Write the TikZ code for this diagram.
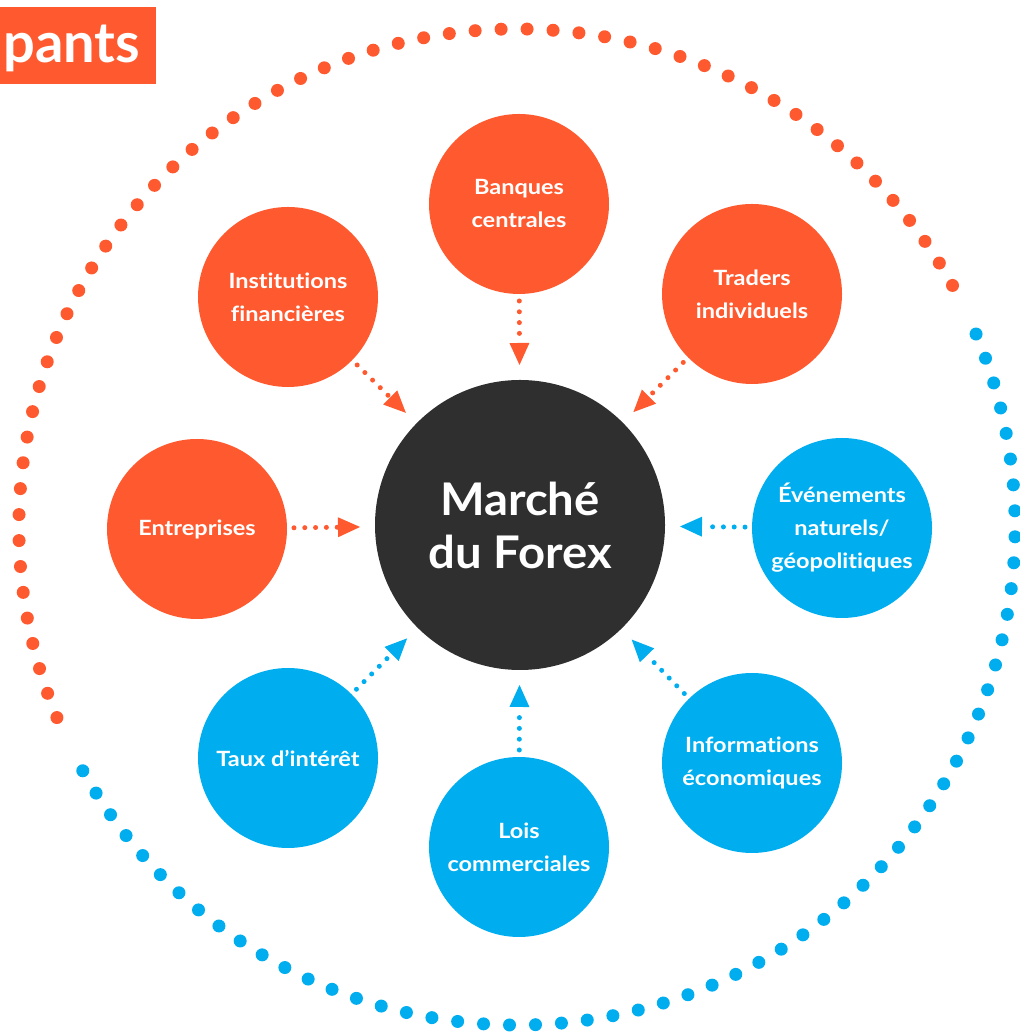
\documentclass[tikz,border=0pt]{standalone}
\usepackage{fontspec}
\setmainfont{Lato}
\newfontfamily\smallwide{Lato}[FakeStretch=1.12,Ligatures=NoCommon]
\newfontfamily\bigwide{Lato}[FakeStretch=1.05]
\usetikzlibrary{arrows.meta,calc}
\definecolor{orng}{HTML}{FF5A2F}
\definecolor{blu}{HTML}{00AEEF}
\definecolor{drk}{HTML}{2F2F2F}
\begin{document}
\begin{tikzpicture}[x=1pt,y=1pt,
  small/.style={circle,fill=#1,minimum size=180pt,inner sep=0pt,outer sep=0pt,text=white,
    font=\smallwide\fontsize{21}{33}\selectfont\bfseries,align=center},
  conn/.style={draw=#1,line width=5pt,line cap=round,dash pattern=on 0pt off 10.8pt,
    shorten <=7pt,shorten >=15pt,
    -{Triangle[length=22pt,width=20pt,line width=0pt,fill=#1]}},
  ring/.style={draw=#1,line width=13pt,line cap=round,dash pattern=on 0pt off 26pt}]
\useasboundingbox (0,0) rectangle (1019,1032);
% outer dotted ring
\draw[ring=orng] (517,505) ++(202.5:498) arc[start angle=202.5,end angle=28,radius=498];
\draw[ring=blu] (517,505) ++(22.8:498) arc[start angle=22.8,end angle=-152.2,radius=498];
% title
\fill[orng] (0,948) rectangle (156,1025);
\node[anchor=base west,inner sep=0pt,text=white,font=\fontsize{56}{56}\selectfont\bfseries] (title) at (3,969) {pants};
% centre
\node[circle,fill=drk,minimum size=290pt,inner sep=0pt,outer sep=0pt,text=white,
  font=\bigwide\fontsize{45}{53}\selectfont\bfseries,align=center] (c) at (520,507) {Marché\\du Forex};
% participants
\node[small=orng] (banq) at (519,828) {Banques\\centrales};
\node[small=orng] (inst) at (288,735) {Institutions\\financières};
\node[small=orng] (trad) at (752,738) {Traders\\individuels};
\node[small=orng] (entr) at (197,503) {Entreprises};
\node[small=blu] (even) at (842,504) {Événements\\naturels/\\géopolitiques};
\node[small=blu] (taux) at (288,274) {Taux d’intérêt};
\node[small=blu] (lois) at (519,185) {Lois\\commerciales};
\node[small=blu] (info) at (752,269) {Informations\\économiques};
% connectors
\foreach \s in {banq,inst,trad,entr}{\draw[conn=orng] (\s) -- (c);}
\foreach \s in {even,taux,lois,info}{\draw[conn=blu] (\s) -- (c);}
\end{tikzpicture}
\end{document}
